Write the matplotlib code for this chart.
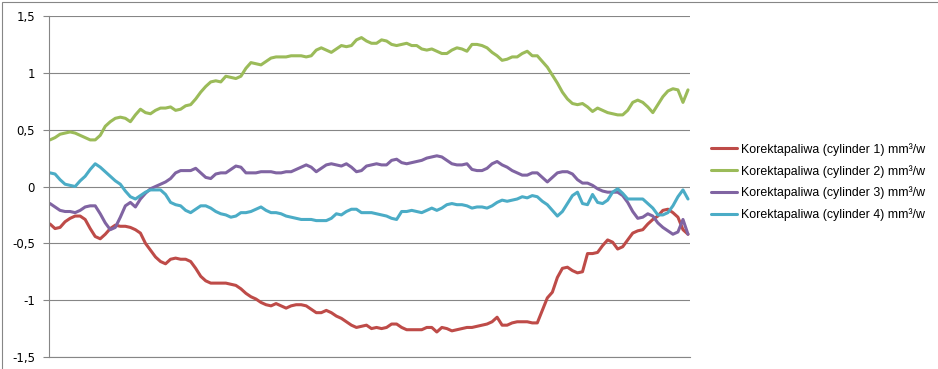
import matplotlib
matplotlib.use('Agg')
import matplotlib.pyplot as plt
import numpy as np
from matplotlib.patches import Rectangle

# values (128 samples per cylinder)
cyl1 = [-0.33, -0.37, -0.36, -0.31, -0.28, -0.26, -0.26, -0.29, -0.37, -0.44,
        -0.46, -0.42, -0.37, -0.34, -0.35, -0.35, -0.36, -0.38, -0.41, -0.50,
        -0.56, -0.62, -0.66, -0.68, -0.64, -0.63, -0.64, -0.64, -0.66, -0.72,
        -0.79, -0.83, -0.85, -0.85, -0.85, -0.85, -0.86, -0.87, -0.90, -0.94,
        -0.97, -0.99, -1.02, -1.04, -1.05, -1.03, -1.05, -1.07, -1.05, -1.04,
        -1.04, -1.05, -1.08, -1.11, -1.11, -1.09, -1.11, -1.14, -1.16, -1.19,
        -1.22, -1.24, -1.23, -1.22, -1.25, -1.24, -1.25, -1.24, -1.21, -1.21,
        -1.24, -1.26, -1.26, -1.26, -1.26, -1.24, -1.24, -1.28, -1.24, -1.25,
        -1.27, -1.26, -1.25, -1.24, -1.24, -1.23, -1.22, -1.21, -1.19, -1.15,
        -1.22, -1.22, -1.20, -1.19, -1.19, -1.19, -1.20, -1.20, -1.09, -0.98,
        -0.93, -0.80, -0.72, -0.71, -0.74, -0.76, -0.75, -0.59, -0.59, -0.58,
        -0.52, -0.47, -0.49, -0.55, -0.53, -0.47, -0.41, -0.39, -0.38, -0.33,
        -0.29, -0.26, -0.21, -0.20, -0.23, -0.27, -0.38, -0.42]

cyl2 = [0.41, 0.43, 0.46, 0.47, 0.48, 0.47, 0.45, 0.43, 0.41, 0.41,
        0.45, 0.53, 0.57, 0.60, 0.61, 0.60, 0.57, 0.63, 0.68, 0.65,
        0.64, 0.67, 0.69, 0.69, 0.70, 0.67, 0.68, 0.71, 0.72, 0.77,
        0.83, 0.88, 0.92, 0.93, 0.92, 0.97, 0.96, 0.95, 0.97, 1.04,
        1.09, 1.08, 1.07, 1.10, 1.13, 1.14, 1.14, 1.14, 1.15, 1.15,
        1.15, 1.14, 1.15, 1.20, 1.22, 1.20, 1.18, 1.21, 1.24, 1.23,
        1.24, 1.29, 1.31, 1.28, 1.26, 1.26, 1.29, 1.28, 1.25, 1.24,
        1.25, 1.26, 1.24, 1.24, 1.21, 1.20, 1.21, 1.19, 1.17, 1.17,
        1.20, 1.22, 1.21, 1.19, 1.25, 1.25, 1.24, 1.22, 1.18, 1.15,
        1.11, 1.12, 1.14, 1.14, 1.17, 1.19, 1.15, 1.15, 1.10, 1.05,
        0.98, 0.91, 0.83, 0.77, 0.73, 0.72, 0.73, 0.70, 0.66, 0.69,
        0.67, 0.65, 0.64, 0.63, 0.63, 0.67, 0.74, 0.76, 0.74, 0.70,
        0.65, 0.72, 0.79, 0.84, 0.86, 0.85, 0.74, 0.85]

cyl3 = [-0.15, -0.18, -0.21, -0.22, -0.22, -0.23, -0.21, -0.18, -0.17, -0.17,
        -0.24, -0.32, -0.38, -0.36, -0.27, -0.17, -0.14, -0.18, -0.11, -0.06,
        -0.02, 0.00, 0.02, 0.04, 0.07, 0.12, 0.14, 0.14, 0.14, 0.16,
        0.12, 0.08, 0.07, 0.11, 0.12, 0.12, 0.15, 0.18, 0.17, 0.12,
        0.12, 0.12, 0.13, 0.13, 0.13, 0.12, 0.12, 0.13, 0.13, 0.15,
        0.17, 0.19, 0.17, 0.13, 0.16, 0.19, 0.20, 0.19, 0.18, 0.20,
        0.17, 0.13, 0.14, 0.18, 0.19, 0.20, 0.19, 0.19, 0.23, 0.24,
        0.21, 0.20, 0.21, 0.22, 0.23, 0.25, 0.26, 0.27, 0.26, 0.23,
        0.20, 0.19, 0.19, 0.20, 0.15, 0.14, 0.14, 0.16, 0.20, 0.22,
        0.19, 0.17, 0.14, 0.12, 0.10, 0.10, 0.12, 0.12, 0.08, 0.04,
        0.08, 0.12, 0.13, 0.13, 0.11, 0.06, 0.03, 0.03, 0.01, -0.02,
        -0.04, -0.05, -0.05, -0.05, -0.08, -0.14, -0.22, -0.28, -0.27, -0.24,
        -0.26, -0.32, -0.36, -0.39, -0.42, -0.40, -0.29, -0.42]

cyl4 = [0.12, 0.11, 0.06, 0.02, 0.01, 0.00, 0.05, 0.09, 0.15, 0.20,
        0.17, 0.13, 0.09, 0.05, 0.02, -0.04, -0.09, -0.11, -0.08, -0.05,
        -0.03, -0.03, -0.03, -0.07, -0.14, -0.16, -0.17, -0.21, -0.23, -0.20,
        -0.17, -0.17, -0.19, -0.22, -0.24, -0.25, -0.27, -0.26, -0.23, -0.23,
        -0.22, -0.20, -0.18, -0.21, -0.23, -0.23, -0.24, -0.26, -0.27, -0.28,
        -0.29, -0.29, -0.29, -0.30, -0.30, -0.30, -0.28, -0.24, -0.25, -0.22,
        -0.20, -0.20, -0.23, -0.23, -0.23, -0.24, -0.25, -0.26, -0.28, -0.29,
        -0.22, -0.22, -0.21, -0.22, -0.23, -0.21, -0.19, -0.21, -0.19, -0.16,
        -0.15, -0.16, -0.16, -0.17, -0.19, -0.18, -0.18, -0.19, -0.17, -0.14,
        -0.12, -0.13, -0.12, -0.11, -0.09, -0.10, -0.08, -0.09, -0.13, -0.16,
        -0.21, -0.26, -0.22, -0.15, -0.08, -0.05, -0.15, -0.16, -0.07, -0.14,
        -0.15, -0.12, -0.05, -0.02, -0.06, -0.11, -0.11, -0.11, -0.11, -0.15,
        -0.19, -0.25, -0.25, -0.23, -0.17, -0.09, -0.03, -0.11]

series = [cyl1, cyl2, cyl3, cyl4]
labels = ['Korektapaliwa (cylinder 1) mm³/w',
          'Korektapaliwa (cylinder 2) mm³/w',
          'Korektapaliwa (cylinder 3) mm³/w',
          'Korektapaliwa (cylinder 4) mm³/w']
colors = ['#BE4B48', '#9BBB59', '#8064A2', '#4BACC6']

yticks = [-1.5, -1, -0.5, 0, 0.5, 1, 1.5]
ytick_labels = ['-1,5', '-1', '-0,5', '0', '0,5', '1', '1,5']

W, H = 938, 369
fig = plt.figure(figsize=(W / 100, H / 100), dpi=100)
fig.patch.set_facecolor('white')

# chart area border (right/bottom run off the picture)
fig.patches.append(Rectangle((2 / W, -0.05), 1.1, (H - 2) / H + 0.05,
                             transform=fig.transFigure, fill=False,
                             edgecolor='#868686', lw=0.8))

ax = fig.add_axes([49 / W, 12 / H, 641 / W, 341 / H])
x = np.arange(len(cyl1))
for y, lab, c in zip(series, labels, colors):
    ax.plot(x, y, color=c, lw=2.2, label=lab, solid_joinstyle='round',
            solid_capstyle='round')

ax.set_xlim(-0.2, len(cyl1) - 0.6)
ax.set_ylim(-1.5, 1.5)
ax.set_xticks([])
ax.set_yticks(yticks, ytick_labels)
ax.set_axisbelow(True)
ax.grid(axis='y', color='#868686', lw=0.8)
for s in ['top', 'right']:
    ax.spines[s].set_visible(False)
for s in ['left', 'bottom']:
    ax.spines[s].set_color('#868686')
    ax.spines[s].set_linewidth(0.8)
ax.tick_params(axis='y', length=4, width=0.8, color='#868686',
               labelsize=8.5, pad=6, labelcolor='black')

fig.legend(loc='center left', bbox_to_anchor=(700 / W, 1 - 182 / H),
           frameon=False, prop={'family': 'Liberation Sans', 'size': 8.9},
           handlelength=2.1, handletextpad=0.35, labelspacing=0.72)

fig.savefig('out.png', dpi=100)
